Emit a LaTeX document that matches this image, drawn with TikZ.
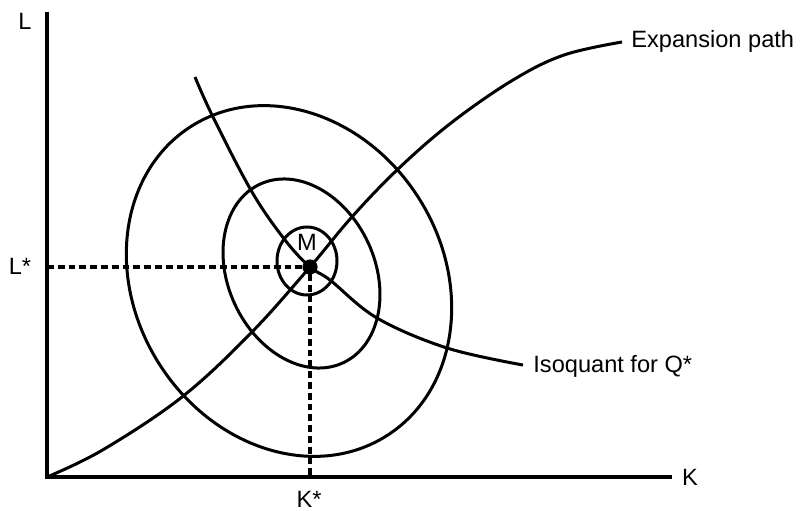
\documentclass[tikz,border=0pt]{standalone}
\usepackage{fontspec}
\setmainfont{Liberation Sans}
\begin{document}
\begin{tikzpicture}[x=0.5pt,y=0.5pt,
  axis/.style={line width=1.9pt},
  curve/.style={line width=1.5pt},
  guide/.style={line width=1.7pt,dash pattern=on 3.4pt off 2pt},
  lbl/.style={font=\fontsize{11.8}{14}\selectfont,inner sep=0pt}]
\useasboundingbox (0,0) rectangle (804,510);
% axes
\coordinate (O) at (47,33);
\coordinate (Ltop) at (47,498);
\coordinate (Kend) at (672,33);
\draw[axis] (Ltop) -- (O) -- (Kend);
\node[lbl] (Llab) at (25,489) {L};
\node[lbl] (Klab) at (690,33) {K};
% optimum point
\coordinate (M) at (310,243);
\coordinate (Lstar) at (47,243);
\coordinate (Kstar) at (310,33);
\draw[guide] (Lstar) -- (M) -- (Kstar);
\node[lbl] (Lslab) at (20,244) {L*};
\node[lbl] (Kslab) at (309,11) {K*};
% ellipses
\draw[curve,rotate around={32:(289,229)}] (289,229) ellipse [x radius=77pt, y radius=91.5pt];
\draw[curve,rotate around={25:(301.5,236.5)}] (301.5,236.5) ellipse [x radius=36.7pt, y radius=49.25pt];
\draw[curve] (307,249) ellipse [x radius=15pt, y radius=17pt];
% expansion path
\draw[curve] plot[smooth,tension=0.6] coordinates {(47,33) (102.6,60) (182,113) (251,177) (310,243) (351,292) (397,340) (451,387) (513,430) (564,455) (622,468)};
\node[lbl,anchor=west] (Elab) at (631,469) {Expansion path};
% isoquant
\draw[curve] plot[smooth,tension=0.6] coordinates {(195,433) (213,393) (252,318) (285,270) (310,243) (330,230) (377,192) (447,162) (523,145)};
\node[lbl,anchor=west] (Ilab) at (533,144) {Isoquant for Q*};
% point M
\fill (M) circle (3.8pt);
\node[lbl] (Mlab) at (307,268) {M};
\end{tikzpicture}
\end{document}
